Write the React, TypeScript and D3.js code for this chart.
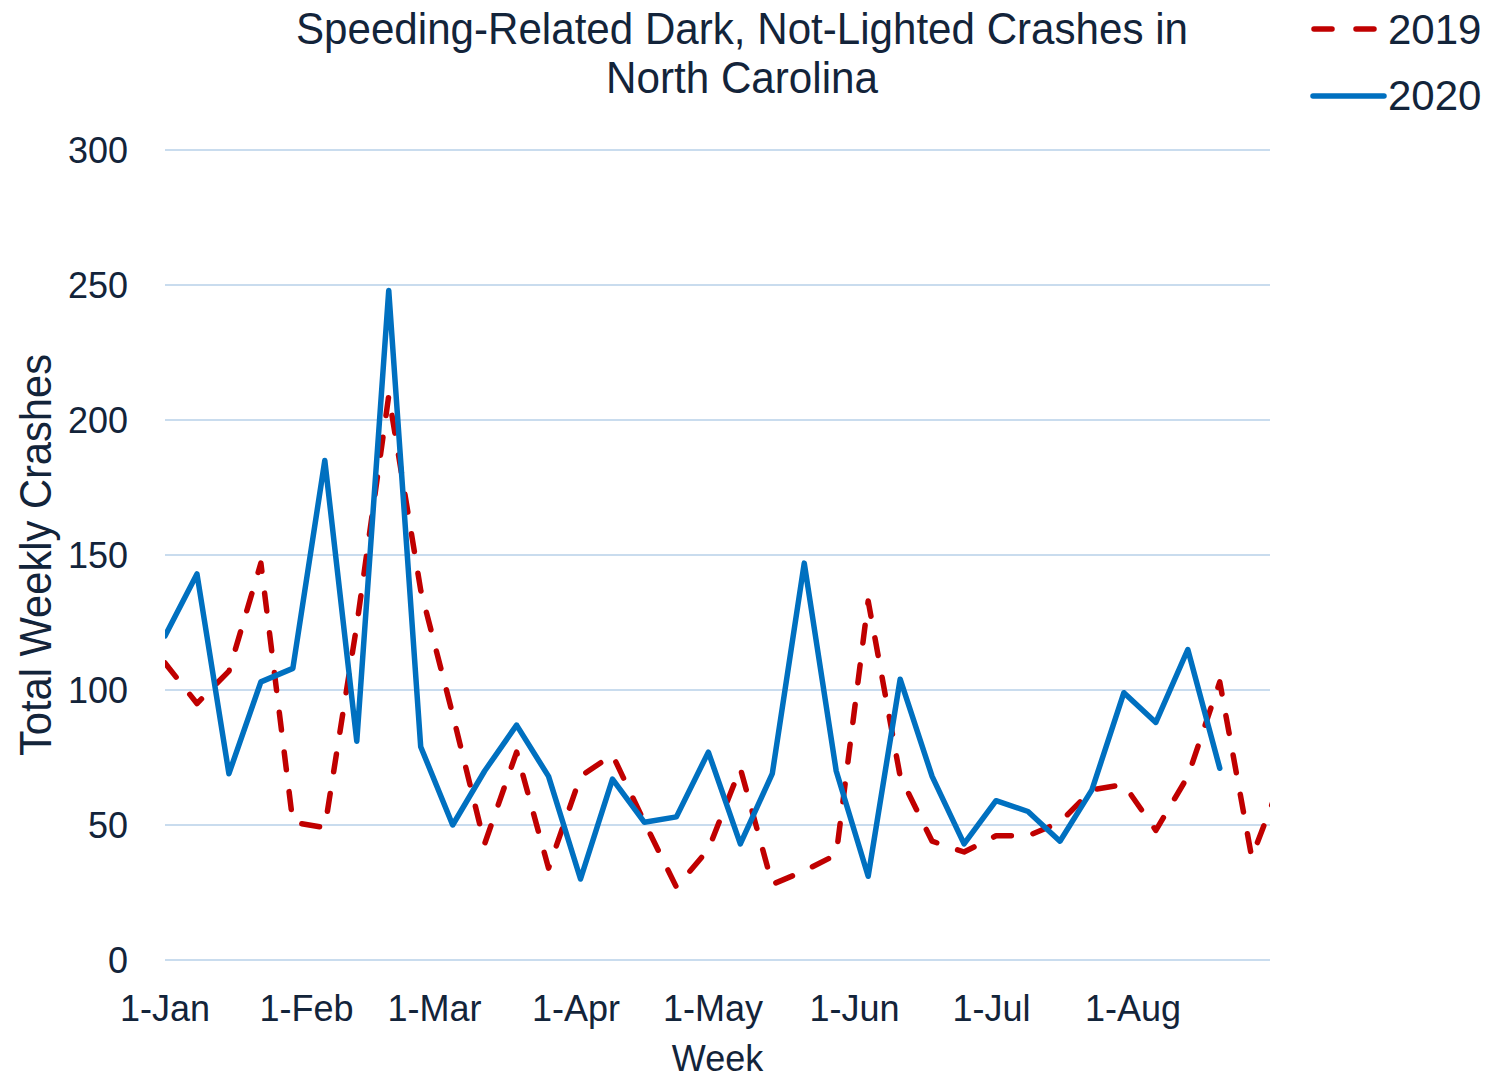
import React from "react";
import * as d3 from "d3";

const weekDates = [
  "2019-01-01", "2019-01-08", "2019-01-15", "2019-01-22", "2019-01-29",
  "2019-02-05", "2019-02-12", "2019-02-19", "2019-02-26",
  "2019-03-05", "2019-03-12", "2019-03-19", "2019-03-26",
  "2019-04-02", "2019-04-09", "2019-04-16", "2019-04-23", "2019-04-30",
  "2019-05-07", "2019-05-14", "2019-05-21", "2019-05-28",
  "2019-06-04", "2019-06-11", "2019-06-18", "2019-06-25",
  "2019-07-02", "2019-07-09", "2019-07-16", "2019-07-23", "2019-07-30",
  "2019-08-06", "2019-08-13", "2019-08-20", "2019-08-27",
  "2019-09-03",
];

const crashes2019 = [
  110, 95, 107, 147, 51, 49, 124, 209, 137, 91, 43, 77, 34, 68, 76, 51, 27, 41,
  71, 28, 33, 39, 133, 68, 44, 40, 46, 46, 51, 63, 65, 48, 68, 103, 38, 69,
];

const crashes2020 = [
  120, 143, 69, 103, 108, 185, 81, 248, 79, 50, 70, 87, 68, 30, 67, 51, 53, 77,
  43, 69, 147, 70, 31, 104, 68, 43, 59, 55, 44, 63, 99, 88, 115, 71,
];

const yTicks = [0, 50, 100, 150, 200, 250, 300];
const xTickDates = [
  "2019-01-01", "2019-02-01", "2019-03-01", "2019-04-01",
  "2019-05-01", "2019-06-01", "2019-07-01", "2019-08-01",
];
const xTickLabels = ["1-Jan", "1-Feb", "1-Mar", "1-Apr", "1-May", "1-Jun", "1-Jul", "1-Aug"];
const titleLines = ["Speeding-Related Dark, Not-Lighted Crashes in", "North Carolina"];
const seriesNames = ["2019", "2020"];

const FONT = "'Liberation Sans', Arial, sans-serif";
const TEXT = "#13243A";
const RED = "#C00000";
const BLUE = "#0070C0";
const GRID = "#C9DCEE";

export default function App() {
  const parse = d3.utcParse("%Y-%m-%d");
  const left = 165, right = 1270, top = 150, bottom = 960;
  const x = d3
    .scaleUtc()
    .domain([parse("2019-01-01") as Date, parse("2019-08-31") as Date])
    .range([left, right]);
  const y = d3.scaleLinear().domain([0, 300]).range([bottom, top]);

  const dates = weekDates.map((d) => parse(d) as Date);
  const line = d3
    .line<number>()
    .x((_, i) => x(dates[i]))
    .y((v) => y(v));

  const path2019 = line(crashes2019) || "";
  const path2020 = line(crashes2020) || "";

  return (
    <div style={{ position: "absolute", left: 0, top: 0 }}>
      <svg width={1489} height={1080} style={{ display: "block", background: "#fff" }}>
        <defs>
          <clipPath id="plotClip">
            <rect x={left} y={0} width={right - left} height={1080} />
          </clipPath>
        </defs>
        {yTicks.map((t) => (
          <g key={t}>
            <line x1={left} x2={right} y1={y(t)} y2={y(t)} stroke={GRID} strokeWidth={2} />
            <text
              x={128}
              y={y(t)}
              dy="0.36em"
              textAnchor="end"
              fontFamily={FONT}
              fontSize={36}
              fill={TEXT}
            >
              {t}
            </text>
          </g>
        ))}
        {xTickDates.map((d, i) => (
          <text
            key={d}
            x={x(parse(d) as Date)}
            y={1021}
            textAnchor="middle"
            fontFamily={FONT}
            fontSize={36}
            fill={TEXT}
          >
            {xTickLabels[i]}
          </text>
        ))}
        <text x={(left + right) / 2} y={1071} textAnchor="middle" fontFamily={FONT} fontSize={36} fill={TEXT}>
          Week
        </text>
        <text
          transform={`translate(51, ${(top + bottom) / 2}) rotate(-90)`}
          textAnchor="middle"
          fontFamily={FONT}
          fontSize={45}
          fill={TEXT}
          textLength={402}
          lengthAdjust="spacingAndGlyphs"
        >
          Total Weekly Crashes
        </text>
        {titleLines.map((t, i) => (
          <text
            key={t}
            x={742}
            y={44 + i * 49}
            textAnchor="middle"
            fontFamily={FONT}
            fontSize={45}
            fill={TEXT}
            textLength={i === 0 ? 892 : 272}
            lengthAdjust="spacingAndGlyphs"
          >
            {t}
          </text>
        ))}
        <g clipPath="url(#plotClip)">
          <path
            d={path2019}
            fill="none"
            stroke={RED}
            strokeWidth={5.5}
            strokeDasharray="18 22"
            strokeLinecap="round"
            strokeLinejoin="round"
          />
          <path
            d={path2020}
            fill="none"
            stroke={BLUE}
            strokeWidth={5.5}
            strokeLinecap="round"
            strokeLinejoin="round"
          />
        </g>
        {/* Legend */}
        <line x1={1314} x2={1383} y1={29} y2={29} stroke={RED} strokeWidth={5.5} strokeDasharray="18 24" strokeLinecap="round" />
        <text x={1388} y={44} fontFamily={FONT} fontSize={42} fill={TEXT}>
          {seriesNames[0]}
        </text>
        <line x1={1313} x2={1384} y1={96} y2={96} stroke={BLUE} strokeWidth={5.5} strokeLinecap="round" />
        <text x={1388} y={110} fontFamily={FONT} fontSize={42} fill={TEXT}>
          {seriesNames[1]}
        </text>
      </svg>
    </div>
  );
}
